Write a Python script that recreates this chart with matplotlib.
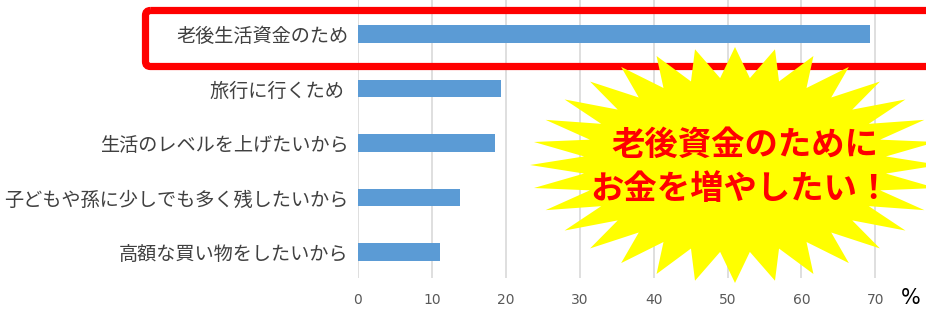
import numpy as np
import matplotlib
matplotlib.use("Agg")
import matplotlib.pyplot as plt
from matplotlib.patches import FancyBboxPatch, Polygon

plt.rcParams['font.family'] = ['Noto Sans CJK JP', 'DejaVu Sans']

# data (%)
categories = ["老後生活資金のため", "旅行に行くため ", "生活のレベルを上げたいから",
              "子どもや孫に少しでも多く残したいから", "高額な買い物をしたいから"]
values = [69.3, 19.4, 18.5, 13.8, 11.1]
xticks = [0, 10, 20, 30, 40, 50, 60, 70]

BAR = "#5b9bd5"
GRID = "#d9d9d9"
RED = "#ff0000"
YELLOW = "#ffff00"

W, H = 926, 309
fig = plt.figure(figsize=(W / 100, H / 100), dpi=100)

# main chart: x=0 at 358px, 73.9px per 10 %
left = 358 / W
ax = fig.add_axes([left, 31 / H, 80 * 7.39 / W, 278 / H])
y = np.arange(len(categories))
ax.barh(y, values, height=0.33, color=BAR, zorder=2)
ax.set_xlim(0, 80)
ax.set_ylim(4.477, -0.624)
ax.set_xticks(xticks)
ax.set_xticklabels([str(t) for t in xticks], color="#595959", fontsize=10,
                   family=["DejaVu Sans"])
ax.set_yticks(y)
ax.set_yticklabels(categories, fontsize=13.8, color="#404040")
ax.tick_params(axis="both", length=0)
ax.tick_params(axis="x", pad=11)
ax.tick_params(axis="y", pad=7)
ax.grid(axis="x", color=GRID, lw=1.2, zorder=0)
for s in ax.spines.values():
    s.set_visible(False)
ax.set_axisbelow(True)

fig.text(901 / W, 1 - 298 / H, "%", fontsize=15, color="#000000",
         ha="left", va="center", family=["DejaVu Sans"])

# overlay in pixel coords
ov = fig.add_axes([0, 0, 1, 1], zorder=5)
ov.set_xlim(0, W)
ov.set_ylim(H, 0)
ov.axis("off")
ov.patch.set_alpha(0)

ov.add_patch(FancyBboxPatch((145.5, 10.5), 820, 56,
                            boxstyle="round,pad=0,rounding_size=5",
                            fill=False, ec=RED, lw=5.2, zorder=3))

# starburst
n = 32
cx, cy, rx, ry = 735, 165, 205, 118
ang = np.pi / 2 + np.arange(2 * n) * np.pi / n
r = np.where(np.arange(2 * n) % 2 == 0, 1.0, 0.74)
pts = np.column_stack([cx + rx * r * np.cos(ang), cy - ry * r * np.sin(ang)])
ov.add_patch(Polygon(pts, closed=True, fc=YELLOW, ec="none", zorder=4))

ov.text(745, 145, "老後資金のために", fontsize=24, fontweight="bold", color=RED,
        ha="center", va="center", zorder=5)
ov.text(740, 189, "お金を増やしたい！", fontsize=24, fontweight="bold", color=RED,
        ha="center", va="center", zorder=5)

fig.savefig("out.png", dpi=100)
